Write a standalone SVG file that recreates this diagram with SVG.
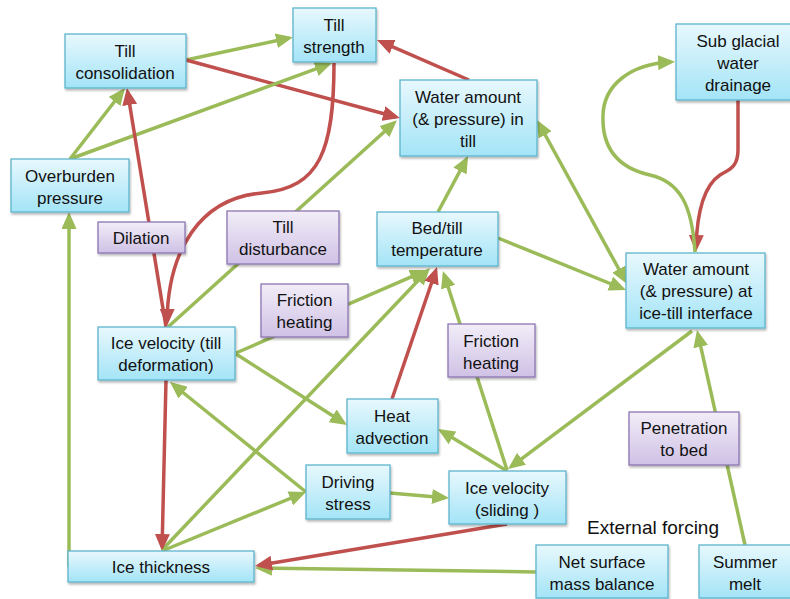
<svg xmlns="http://www.w3.org/2000/svg" width="790" height="599" viewBox="0 0 790 599">
<defs>
<linearGradient id="gb" x1="0" y1="0" x2="0" y2="1"><stop offset="0" stop-color="#e8f8fd"/><stop offset="1" stop-color="#a3e4f7"/></linearGradient>
<linearGradient id="gp" x1="0" y1="0" x2="0" y2="1"><stop offset="0" stop-color="#f2edf8"/><stop offset="1" stop-color="#cfc1e5"/></linearGradient>
<filter id="sh" x="-10%" y="-10%" width="130%" height="140%"><feDropShadow dx="1" dy="2" stdDeviation="1.2" flood-color="#000" flood-opacity="0.28"/></filter>
<marker id="ag" markerUnits="userSpaceOnUse" markerWidth="17" markerHeight="15" refX="13" refY="7.5" orient="auto-start-reverse"><path d="M0,0 L17,7.5 L0,15 z" fill="#9bbb59"/></marker>
<marker id="ar" markerUnits="userSpaceOnUse" markerWidth="17" markerHeight="15" refX="13" refY="7.5" orient="auto"><path d="M0,0 L17,7.5 L0,15 z" fill="#c0504d"/></marker>
<style>
.g{fill:none;stroke:#9bbb59;stroke-width:3.5;marker-end:url(#ag)}
.r{fill:none;stroke:#c0504d;stroke-width:3.5;marker-end:url(#ar)}
.nb{fill:url(#gb);stroke:#5db4cd;stroke-width:1.3;filter:url(#sh)}
.np{fill:url(#gp);stroke:#8d76b3;stroke-width:1.3;filter:url(#sh)}
text{font-family:"Liberation Sans",Arial,sans-serif;font-size:17px;fill:#111;text-anchor:middle}
.ef{font-size:19px}
</style>
</defs>
<g id="connectors">
<line class="g" x1="186" y1="60" x2="289" y2="38"/>
<line class="r" x1="186" y1="60" x2="396" y2="117"/>
<line class="g" x1="70" y1="159" x2="122.5" y2="91.2"/>
<line class="g" x1="70" y1="159" x2="328.2" y2="64.4"/>
<line class="g" x1="69" y1="567" x2="69" y2="216"/>
<line class="r" x1="166" y1="327" x2="127.6" y2="92"/>
<path class="r" d="M334,63 C334,150 320,188 262,193 C200,198 168,250 167,322"/>
<line class="g" x1="168" y1="327" x2="394" y2="123"/>
<line class="g" x1="236" y1="353" x2="423.3" y2="271.6"/>
<line class="g" x1="162" y1="550" x2="427.2" y2="271"/>
<line class="r" x1="392" y1="399" x2="435.7" y2="270.8"/>
<line class="g" x1="507" y1="470" x2="444.2" y2="274.8"/>
<line class="g" x1="438" y1="212" x2="466.1" y2="159.5"/>
<line class="r" x1="469" y1="80" x2="380.7" y2="41.6"/>
<line class="g" x1="538.9" y1="123.5" x2="625.1" y2="280.5" style="marker-start:url(#ag)"/>
<line class="g" x1="498" y1="238" x2="622.3" y2="288.5"/>
<path class="r" d="M738,100 L738,150 C738,168 728,170 720,175 C705,185 697,210 696,248"/>
<path class="g" d="M695,252 C692,205 680,182 650,175 C610,166 602,140 603,115 C604,85 630,64 671,62"/>
<line class="g" x1="692" y1="331" x2="511.2" y2="466.6"/>
<line class="g" x1="745" y1="545" x2="697.9" y2="333.9"/>
<line class="g" x1="507" y1="471" x2="441.4" y2="431.1"/>
<line class="g" x1="236" y1="354" x2="343.6" y2="422.8"/>
<line class="g" x1="306" y1="492" x2="173.1" y2="384.5"/>
<line class="r" x1="166" y1="380" x2="162.1" y2="547"/>
<line class="g" x1="162" y1="551" x2="302.3" y2="493.5"/>
<line class="g" x1="390" y1="493" x2="445" y2="497.7"/>
<line class="g" x1="536" y1="572" x2="259" y2="568"/>
<line class="r" x1="507" y1="524" x2="259" y2="565.3"/>
</g>
<g id="till-consolidation"><rect class="nb" x="65" y="34" width="121" height="54"/><text x="125" y="57">Till</text><text x="125" y="79">consolidation</text></g>
<g id="till-strength"><rect class="nb" x="293" y="8" width="83" height="54"/><text x="334" y="31">Till</text><text x="334" y="53">strength</text></g>
<g id="water-till"><rect class="nb" x="400" y="80" width="137" height="76"/><text x="468" y="103">Water amount</text><text x="468" y="125">(&amp; pressure) in</text><text x="468" y="147">till</text></g>
<g id="subglacial-drainage"><rect class="nb" x="676" y="24" width="126" height="76"/><text x="738" y="47">Sub glacial</text><text x="738" y="69">water</text><text x="738" y="91">drainage</text></g>
<g id="overburden"><rect class="nb" x="11" y="159" width="118" height="53"/><text x="70" y="182">Overburden</text><text x="70" y="204">pressure</text></g>
<g id="dilation"><rect class="np" x="98" y="222" width="87" height="31"/><text x="141" y="244">Dilation</text></g>
<g id="till-disturbance"><rect class="np" x="227" y="211" width="112" height="53"/><text x="283" y="233">Till</text><text x="283" y="255">disturbance</text></g>
<g id="bed-temp"><rect class="nb" x="377" y="212" width="121" height="54"/><text x="437" y="234">Bed/till</text><text x="437" y="256">temperature</text></g>
<g id="water-interface"><rect class="nb" x="626" y="253" width="139" height="75"/><text x="696" y="275">Water amount</text><text x="696" y="297">(&amp; pressure) at</text><text x="696" y="319">ice-till interface</text></g>
<g id="friction-heating-1"><rect class="np" x="261" y="284" width="87" height="53"/><text x="304.5" y="306">Friction</text><text x="304.5" y="328">heating</text></g>
<g id="friction-heating-2"><rect class="np" x="448" y="324" width="87" height="53"/><text x="491" y="347">Friction</text><text x="491" y="369">heating</text></g>
<g id="ice-velocity-till"><rect class="nb" x="98" y="327" width="137" height="53"/><text x="166" y="349">Ice velocity (till</text><text x="166" y="371">deformation)</text></g>
<g id="heat-advection"><rect class="nb" x="347" y="399" width="91" height="54"/><text x="392" y="422">Heat</text><text x="392" y="444">advection</text></g>
<g id="driving-stress"><rect class="nb" x="306" y="465" width="84" height="54"/><text x="348" y="488">Driving</text><text x="348" y="510">stress</text></g>
<g id="ice-velocity-sliding"><rect class="nb" x="449" y="471" width="117" height="53"/><text x="507" y="494">Ice velocity</text><text x="507" y="516">(sliding )</text></g>
<g id="penetration"><rect class="np" x="629" y="412" width="110" height="53"/><text x="684" y="434">Penetration</text><text x="684" y="456">to bed</text></g>
<g id="ice-thickness"><rect class="nb" x="68" y="551" width="186" height="31"/><text x="161" y="573">Ice thickness</text></g>
<g id="net-surface"><rect class="nb" x="536" y="545" width="132" height="53"/><text x="602" y="568">Net surface</text><text x="602" y="590">mass balance</text></g>
<g id="summer-melt"><rect class="nb" x="699" y="545" width="100" height="53"/><text x="745" y="568">Summer</text><text x="745" y="590">melt</text></g>
<text class="ef" x="653" y="534">External forcing</text>
</svg>
